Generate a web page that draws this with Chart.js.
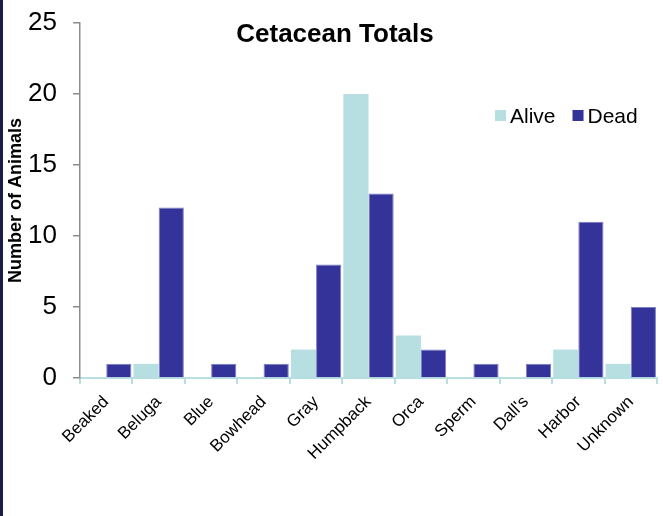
<!DOCTYPE html>
<html>
<head>
<meta charset="utf-8">
<script src="https://cdn.jsdelivr.net/npm/chart.js@4/dist/chart.umd.min.js"></script>
<style>
  html, body { margin: 0; padding: 0; background: #fff; }
  #wrap { width: 663px; height: 516px; position: relative; }
</style>
</head>
<body>
<div id="wrap"><canvas id="myChart"></canvas></div>
<script>
// species on the x axis
const species = ['Beaked', 'Beluga', 'Blue', 'Bowhead', 'Gray', 'Humpback', 'Orca', 'Sperm', "Dall's", 'Harbor', 'Unknown'];
const alive = [0, 1, 0, 0, 2, 20, 3, 0, 0, 2, 1];
const dead = [1, 12, 1, 1, 8, 13, 2, 1, 1, 11, 5];
const yTicks = [0, 5, 10, 15, 20, 25];

const chartTitle = 'Cetacean Totals';
const yTitle = 'Number of Animals';

const FONT = '"Liberation Sans", Arial, sans-serif';

// title, legend and the dark strip on the left are drawn by hand
const extras = {
    id: 'extras',
    beforeDraw(chart) {
        const c = chart.ctx;
        c.save();
        c.fillStyle = '#1c1c48';
        c.fillRect(0, 0, 3, chart.height);
        c.restore();
    },
    afterDraw(chart) {
        const c = chart.ctx;
        c.save();
        c.fillStyle = '#000';
        c.font = 'bold 26px ' + FONT;
        c.textAlign = 'center';
        c.textBaseline = 'alphabetic';
        c.fillText(chartTitle, 335, 42);

        // legend
        c.font = '21px ' + FONT;
        c.textAlign = 'left';
        let x = 495;
        chart.data.datasets.forEach(ds => {
            c.fillStyle = ds.backgroundColor;
            c.fillRect(x, 110, 11, 11);
            c.fillStyle = '#000';
            c.fillText(ds.label, x + 15, 123);
            x += 15 + c.measureText(ds.label).width + 17;
        });
        c.restore();
    }
};

const ctx = document.getElementById('myChart').getContext('2d');
const chart = new Chart(ctx, {
    type: 'bar',
    data: {
        labels: species,
        datasets: [{
            label: 'Alive',
            backgroundColor: '#b7dfe2',
            borderWidth: 0,
            data: alive,
            categoryPercentage: 0.96,
            barPercentage: 1.0
        }, {
            label: 'Dead',
            backgroundColor: '#333399',
            borderColor: '#7c7cc4',
            borderWidth: 1,
            data: dead,
            categoryPercentage: 0.96,
            barPercentage: 1.0
        }]
    },
    options: {
        responsive: true,
        maintainAspectRatio: false,
        animation: false,
        layout: { padding: { left: 3, right: 6, top: 23, bottom: 0 } },
        plugins: {
            legend: { display: false },
            title: { display: false },
            tooltip: { enabled: false }
        },
        scales: {
            x: {
                afterFit: s => { s.height = 138; s.paddingLeft = 0; s.paddingRight = 0; },
                border: { color: '#b7dfe2', width: 2 },
                grid: { drawOnChartArea: false, color: '#b7dfe2', tickLength: 6, lineWidth: 2 },
                ticks: {
                    color: '#000',
                    font: { family: FONT, size: 17 },
                    maxRotation: 45,
                    minRotation: 45,
                    padding: 8
                }
            },
            y: {
                min: 0,
                max: 25,
                afterFit: s => { s.width = 77; s.paddingTop = 0; s.paddingBottom = 0; },
                afterBuildTicks: s => { s.ticks = yTicks.map(v => ({ value: v })); },
                border: { color: '#8c8c8c', width: 1.5 },
                grid: { drawOnChartArea: false, color: '#8c8c8c', tickLength: 7, lineWidth: 1.5 },
                ticks: {
                    color: '#000',
                    font: { family: FONT, size: 26 },
                    padding: 16
                },
                title: {
                    display: true,
                    text: yTitle,
                    color: '#000',
                    font: { family: FONT, size: 18, weight: 'bold' },
                    padding: { top: 2, bottom: 0 }
                }
            }
        }
    },
    plugins: [extras]
});
</script>
</body>
</html>
